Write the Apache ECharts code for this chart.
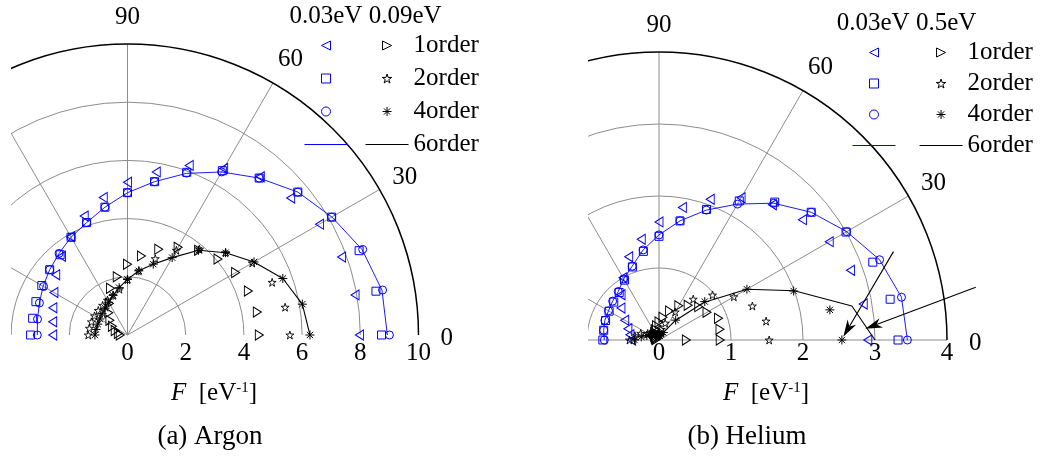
<!DOCTYPE html>
<html><head><meta charset="utf-8">
<script src="https://cdn.jsdelivr.net/npm/echarts@6/dist/echarts.min.js"></script>
<style>html,body{margin:0;padding:0;background:#fff}#c{width:1041px;height:459px}</style>
</head><body><div id="c"></div>
<script>
// ---------------- data ----------------
const ANGLES = [0,10,20,30,40,50,60,70,80,90,100,110,120,130,140,150,160,170,180];
const ANGLE_LABELS = [0,30,60,90];

// Argon, 0.03eV (blue)
const AR_LOW_1 = [7.97,7.94,7.83,7.62,7.32,7.10,6.61,6.20,5.69,5.25,4.80,4.35,3.90,3.53,3.22,2.92,2.73,2.61,2.57];
const AR_LOW_2 = [8.73,8.67,8.47,8.10,7.64,7.04,6.52,5.95,5.35,4.89,4.46,4.11,3.88,3.60,3.49,3.40,3.35,3.31,3.33];
const AR_LOW_4 = [9.00,8.90,8.60,8.10,7.64,7.04,6.47,5.92,5.35,4.89,4.46,4.11,3.88,3.66,3.49,3.33,3.22,3.14,3.10];
const AR_LOW_6 = [8.93,8.88,8.58,8.11,7.64,7.04,6.47,5.91,5.35,4.89,4.46,4.11,3.88,3.66,3.49,3.35,3.22,3.14,3.10];
// Argon, 0.09eV (black)
const AR_HIGH_1 = [4.53,4.53,4.42,4.29,4.06,3.80,3.48,3.14,2.76,2.43,2.03,1.71,1.25,1.00,0.79,0.60,0.45,0.32,0.25];
const AR_HIGH_2 = [5.58,5.50,5.29,4.95,4.40,3.85,3.36,2.79,2.24,1.90,1.60,1.45,1.38,1.33,1.31,1.31,1.32,1.33,1.35];
const AR_HIGH_4 = [6.27,6.10,5.68,5.02,4.40,3.80,3.07,2.59,2.24,1.91,1.65,1.45,1.30,1.20,1.14,1.10,1.09,1.10,1.12];
const AR_HIGH_6 = [6.27,6.10,5.68,5.02,4.40,3.80,3.07,2.59,2.24,1.91,1.65,1.45,1.30,1.20,1.14,1.10,1.09,1.10,1.12];

// Helium, 0.03eV (blue)
const HE_LOW_1 = [2.90,2.88,2.83,2.73,2.60,2.45,2.28,2.08,1.87,1.64,1.42,1.23,1.00,0.82,0.69,0.55,0.46,0.41,0.38];
const HE_LOW_2 = [3.32,3.26,3.16,3.00,2.76,2.50,2.23,1.93,1.68,1.44,1.25,1.08,0.96,0.86,0.82,0.80,0.79,0.78,0.78];
const HE_LOW_4 = [3.45,3.42,3.26,3.01,2.76,2.48,2.18,1.92,1.68,1.46,1.27,1.09,0.98,0.88,0.84,0.81,0.80,0.78,0.76];
const HE_LOW_6 = [3.45,3.42,3.26,3.01,2.76,2.48,2.18,1.92,1.68,1.46,1.27,1.09,0.98,0.88,0.84,0.81,0.80,0.78,0.76];
// Helium, 0.5eV (black); a negative value is drawn on the opposite side (polar convention)
const HE_HIGH_1 = [0.85,0.86,0.88,0.77,0.72,0.63,0.55,0.43,0.32,0.25,0.20,0.15,0.12,0.10,0.08,0.06,0.05,0.04,-0.38];
const HE_HIGH_2 = [1.53,1.51,1.38,1.20,0.97,0.74,0.45,0.25,0.15,0.10,0.08,0.08,0.10,0.12,0.15,0.18,0.27,0.34,0.41];
const HE_HIGH_4 = [2.54,2.41,1.99,1.41,0.83,0.36,0.12,0.08,0.06,0.06,0.07,0.08,0.09,0.10,0.12,0.15,0.18,0.25,0.34];
const HE_HIGH_6 = [3.00,2.72,2.00,1.41,0.81,0.35,0.12,0.06,0.04,0.03,0.03,0.03,0.04,0.04,0.05,0.05,0.05,0.05,0.05];

// annotation arrows on the helium plot: [radius, angle] start -> tip
const HE_ARROWS = [
  [[3.48, 20.65], [2.56, 1.0]],
  [[4.46, 9.44], [2.87, 3.1]]
];

const ORDERS = ['1order','2order','4order','6order'];

// ---------------- styles ----------------
const BLUE = '#0000ff';
const BLACK = '#000000';
const GRAY = '#8c8c8c';
const NONE = 'rgba(0,0,0,0)';
const FONT = 'Liberation Serif';
const FS = 25;

const SYM_TRI_L = 'path://M10,0L0,5L10,10Z';
const SYM_TRI_R = 'path://M0,0L10,5L0,10Z';
const SYM_SQ = 'path://M0,0L10,0L10,10L0,10Z';
const SYM_STAR = 'path://M10,0L12.2,6.9L19.5,6.9L13.6,11.2L15.9,18.1L10,13.8L4.1,18.1L6.4,11.2L0.5,6.9L7.8,6.9Z';
const SYM_AST = 'path://M10,0L10,20M0,10L20,10M3,3L17,17M3,17L17,3';

function polarData(vals) {
  return ANGLES.map((a, i) => vals[i] < 0 ? [-vals[i], (a + 180) % 360] : [vals[i], a]);
}

function scatter(name, polarIndex, vals, symbol, size, color, bw) {
  return {
    name, type: 'scatter', coordinateSystem: 'polar', polarIndex,
    symbol, symbolSize: size, silent: true, z: 5,
    itemStyle: { color: 'none', borderColor: color, borderWidth: bw || 1, opacity: 1 },
    data: polarData(vals)
  };
}
function line(name, polarIndex, vals, color, width) {
  return {
    name, type: 'line', coordinateSystem: 'polar', polarIndex,
    symbol: 'none', silent: true, z: 4, color,
    lineStyle: { color, width },
    itemStyle: { color: NONE, borderColor: NONE, borderWidth: 0 },
    data: polarData(vals)
  };
}

const labelTok = (lh, pad) => ({ fontSize: FS, fontFamily: FONT, color: BLACK, lineHeight: lh, padding: pad });
function angleAxisCfg(polarIndex, splitColors, z) {
  return {
    polarIndex, type: 'value', min: 0, max: 180, interval: 30,
    startAngle: 0, endAngle: 180, clockwise: false, z,
    axisLine: { show: true, lineStyle: { color: BLACK, width: 1.5 } },
    axisTick: { show: false },
    axisLabel: {
      show: true, margin: 10, color: BLACK, fontSize: FS, fontFamily: FONT,
      formatter: v => ANGLE_LABELS.indexOf(v) >= 0 ? '{a' + v + '|' + v + '}' : '',
      rich: {
        a0: labelTok(25, [6, 0, 0, 12]),
        a30: labelTok(15, [0, 0, 0, 4]),
        a60: labelTok(29, [0, 0, 0, 0]),
        a90: labelTok(34, [0, 0, 0, 0])
      }
    },
    splitLine: { show: true, lineStyle: { color: splitColors, width: 1 } }
  };
}
function radiusAxisCfg(polarIndex, max, interval, splitColors, z, labelMargin) {
  return {
    polarIndex, type: 'value', min: 0, max, interval, z,
    axisLine: { show: false }, axisTick: { show: false },
    axisLabel: { show: true, margin: labelMargin, color: BLACK, fontSize: FS, fontFamily: FONT },
    splitLine: { show: true, lineStyle: { color: splitColors, width: 1 } }
  };
}

function legendCfg(names, left, top, gap, withText, lineColor, lineW) {
  return {
    data: names, orient: 'vertical', left, top, padding: 0,
    itemWidth: 43, itemHeight: 9, itemGap: gap, z: 10,
    selectedMode: false, symbolKeepAspect: true,
    itemStyle: { borderWidth: 1 },
    lineStyle: { color: lineColor, width: lineW },
    formatter: withText ? (n => n.split(' ')[2]) : (() => ' '),
    textStyle: { color: BLACK, fontSize: FS, fontFamily: FONT, lineHeight: 25 }
  };
}

const arLowNames = ORDERS.map(o => 'Ar 0.03eV ' + o);
const arHighNames = ORDERS.map(o => 'Ar 0.09eV ' + o);
const heLowNames = ORDERS.map(o => 'He 0.03eV ' + o);
const heHighNames = ORDERS.map(o => 'He 0.5eV ' + o);

const series = [
  // Argon
  line(arLowNames[3], 0, AR_LOW_6, BLUE, 0.9),
  line(arHighNames[3], 0, AR_HIGH_6, BLACK, 1.1),
  scatter(arLowNames[0], 0, AR_LOW_1, SYM_TRI_L, [8, 10], BLUE),
  scatter(arLowNames[1], 0, AR_LOW_2, SYM_SQ, 8, BLUE),
  scatter(arLowNames[2], 0, AR_LOW_4, 'circle', 8, BLUE),
  scatter(arHighNames[0], 0, AR_HIGH_1, SYM_TRI_R, [8, 10], BLACK),
  scatter(arHighNames[1], 0, AR_HIGH_2, SYM_STAR, 8, BLACK, 0.9),
  scatter(arHighNames[2], 0, AR_HIGH_4, SYM_AST, 9, BLACK, 1),
  // Helium
  line(heLowNames[3], 1, HE_LOW_6, BLUE, 0.9),
  line(heHighNames[3], 1, HE_HIGH_6, BLACK, 1.1),
  scatter(heLowNames[0], 1, HE_LOW_1, SYM_TRI_L, [8, 10], BLUE),
  scatter(heLowNames[1], 1, HE_LOW_2, SYM_SQ, 8, BLUE),
  scatter(heLowNames[2], 1, HE_LOW_4, 'circle', 8, BLUE),
  scatter(heHighNames[0], 1, HE_HIGH_1, SYM_TRI_R, [8, 10], BLACK),
  scatter(heHighNames[1], 1, HE_HIGH_2, SYM_STAR, 8, BLACK, 0.9),
  scatter(heHighNames[2], 1, HE_HIGH_4, SYM_AST, 9, BLACK, 1)
];
const HE_SERIES_INDEX = series.length - 1;

const AXIS_TITLE = '{i|F}  [eV{s|-1}]';
const axisTitleRich = {
  i: { fontStyle: 'italic', fontSize: FS, fontFamily: FONT, fill: BLACK },
  s: { fontSize: 15, fontFamily: FONT, verticalAlign: 'top', fill: BLACK }
};
function txt(text, x, y, size, z, rich) {
  return {
    type: 'text', x, y, z: z || 10, silent: true,
    style: { text, fontSize: size, fontFamily: FONT, fill: BLACK,
      align: 'center', verticalAlign: 'middle', textAlign: 'center', textVerticalAlign: 'middle', rich }
  };
}

const baseGraphics = [
  // masks that crop the half-polar frames to their plot windows
  { type: 'rect', z: 1, silent: true, shape: { x: 0, y: 0, width: 588, height: 345 }, style: { fill: '#ffffff' } },
  { type: 'rect', z: 3, silent: true, shape: { x: 0, y: 0, width: 11, height: 345 }, style: { fill: '#ffffff' } },
  txt('0.03eV 0.09eV', 365.5, 16, FS),
  txt('0.03eV 0.5eV', 906.5, 23, FS),
  txt(AXIS_TITLE, 214, 393, FS, 10, axisTitleRich),
  txt(AXIS_TITLE, 766, 393, FS, 10, axisTitleRich),
  txt('(a) Argon', 210, 437, 27),
  txt('(b) Helium', 747, 437, 27)
];

const option = {
  animation: false,
  backgroundColor: '#ffffff',
  polar: [
    { center: [127.5, 335], radius: 291 },
    { center: [659, 340], radius: 288 }
  ],
  angleAxis: [
    angleAxisCfg(0, [NONE, GRAY, GRAY, GRAY, GRAY, GRAY, NONE], 2),
    angleAxisCfg(1, GRAY, 0)
  ],
  radiusAxis: [
    radiusAxisCfg(0, 10, 2, [GRAY, GRAY, GRAY, GRAY, GRAY, NONE], 2, -31),
    radiusAxisCfg(1, 4, 1, [GRAY, GRAY, GRAY, GRAY, NONE], 0, -26)
  ],
  legend: [
    legendCfg(arLowNames, 304, 33, 8, false, BLUE, 1),
    legendCfg(arHighNames, 365, 33, 8, true, BLACK, 1.1),
    legendCfg(heLowNames, 852, 40, 6, false, BLUE, 1),
    legendCfg(heHighNames, 919, 40, 6, true, BLACK, 1.1)
  ],
  graphic: { elements: baseGraphics },
  series
};

const chart = echarts.init(document.getElementById('c'), null, { renderer: 'canvas' });
chart.setOption(option);

// arrows: endpoints given in data space, converted through the polar coordinate system
function arrowEls(s, e) {
  const dx = e[0] - s[0], dy = e[1] - s[1];
  const L = Math.hypot(dx, dy), ux = dx / L, uy = dy / L, px = -uy, py = ux;
  const len = 17, half = 5, notch = 12;
  const b1 = [e[0] - ux * len + px * half, e[1] - uy * len + py * half];
  const b2 = [e[0] - ux * len - px * half, e[1] - uy * len - py * half];
  const n = [e[0] - ux * notch, e[1] - uy * notch];
  return [
    { type: 'line', z: 6, silent: true, shape: { x1: s[0], y1: s[1], x2: n[0], y2: n[1] }, style: { stroke: BLACK, lineWidth: 1.1 } },
    { type: 'polygon', z: 6, silent: true, shape: { points: [e, b1, n, b2] }, style: { fill: BLACK } }
  ];
}
const arrowGraphics = [];
HE_ARROWS.forEach(a => {
  const s = chart.convertToPixel({ seriesIndex: HE_SERIES_INDEX }, a[0]);
  const e = chart.convertToPixel({ seriesIndex: HE_SERIES_INDEX }, a[1]);
  if (s && e) arrowGraphics.push(...arrowEls(s, e));
});
chart.setOption({ graphic: { elements: baseGraphics.concat(arrowGraphics) } });
</script>
</body></html>
